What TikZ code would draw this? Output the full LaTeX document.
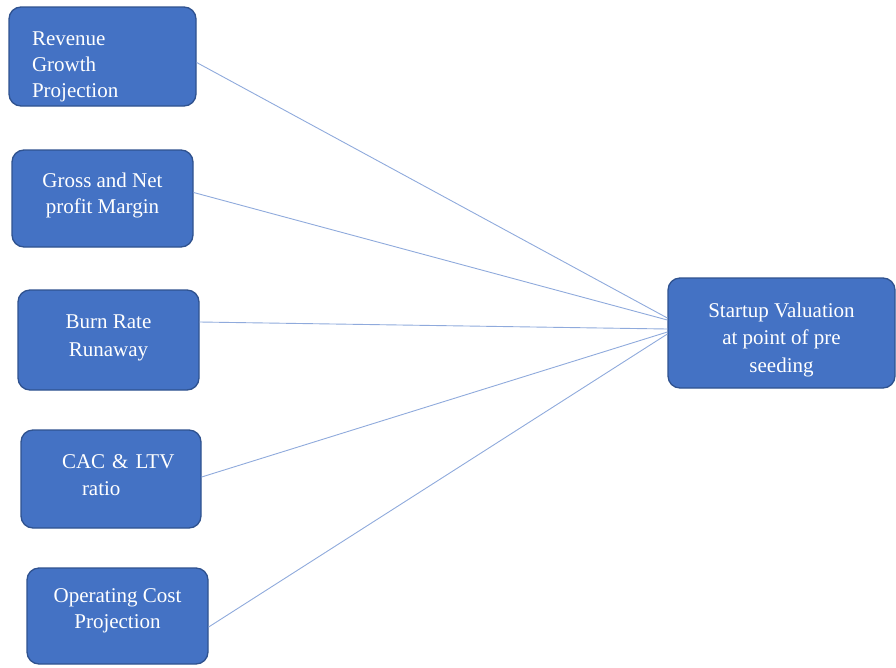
\documentclass[tikz,border=0pt]{standalone}
\usepackage{fontspec}
\setmainfont{Liberation Serif}
\newfontfamily\boxfont{Liberation Serif}
\usetikzlibrary{positioning}
\definecolor{boxblue}{RGB}{68,114,196}
\definecolor{boxedge}{RGB}{47,82,143}
\definecolor{linkblue}{RGB}{143,170,220}
\begin{document}
\begin{tikzpicture}[x=1pt,y=-1pt,
    every node/.style={font=\boxfont\fontsize{21}{26}\selectfont,text=white},
    factor/.style={draw=boxedge,line width=1.3pt,fill=boxblue,rounded corners=12pt,
      align=center,inner sep=0pt,text depth=0pt},
    link/.style={draw=linkblue,line width=0.9pt}]
  \useasboundingbox (0,0) rectangle (896,667);
  % input factors
  \node[factor,text width=141pt,inner xsep=23pt,align=left,minimum height=99pt,
    text height=0pt,text depth=23pt]
    (rev) at (102.5,56.5) {Revenue\\Growth\\Projection};
  \node[factor,minimum width=181pt,minimum height=97pt,text height=29pt]
    (gross) at (102.5,198.5) {Gross and Net\\profit Margin};
  \node[factor,minimum width=181pt,minimum height=100pt,text height=32pt,
    font=\boxfont\fontsize{21}{28}\selectfont]
    (burn) at (108.5,340) {Burn Rate\\Runaway};
  \node[factor,text width=150pt,inner xsep=15pt,align=left,minimum height=98pt,
    text height=0pt,text depth=22pt,font=\boxfont\fontsize{21}{27}\selectfont]
    (cac) at (111,479) {\hspace*{26pt}CAC \& LTV\\\hspace*{46pt}ratio};
  \node[factor,minimum width=181pt,minimum height=96pt,text height=24pt]
    (opex) at (117.5,616) {Operating Cost\\Projection};
  % target
  \node[factor,minimum width=227pt,minimum height=110pt,text height=78pt,
    font=\boxfont\fontsize{21}{27.5}\selectfont]
    (val) at (781.5,333) {Startup Valuation\\at point of pre\\seeding};
  % connectors
  \foreach \n/\a/\b in {rev/-6/15,gross/6/13,burn/18/4,cac/2/1,opex/-11/-1}{
    \draw[link] ([yshift=\a pt]\n.east) -- ([yshift=\b pt]val.west);
  }
\end{tikzpicture}
\end{document}
